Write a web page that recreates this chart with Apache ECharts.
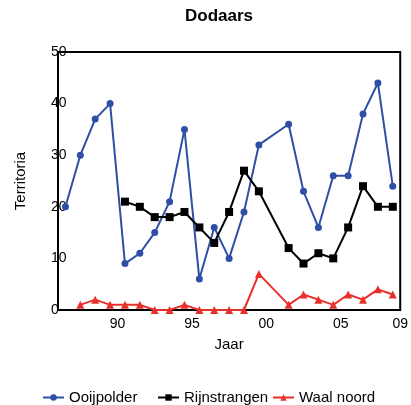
<!DOCTYPE html>
<html>
<head>
<meta charset="utf-8">
<script src="https://cdn.jsdelivr.net/npm/echarts@6/dist/echarts.min.js"></script>
<style>
  html, body { margin: 0; padding: 0; background: #fff; }
  #chart { width: 411px; height: 405px; }
</style>
</head>
<body>
<div id="chart"></div>
<script>
// jaren 1987 - 2009, 2001 ontbreekt (null)
var years = ["1987","1988","1989","1990","1991","1992","1993","1994","1995","1996","1997","1998",
  "1999","2000","2001","2002","2003","2004","2005","2006","2007","2008","2009"];
var yearLabels = { "1990": "90", "1995": "95", "2000": "00", "2005": "05", "2009": "09" };
var yTicks = [0, 10, 20, 30, 40, 50];
var seriesNames = ["Ooijpolder", "Rijnstrangen", "Waal noord"];

var ooijpolder = [20, 30, 37, 40, 9, 11, 15, 21, 35, 6, 16, 10, 19, 32, null, 36, 23, 16, 26, 26, 38, 44, 24];
var rijnstrangen = [null, null, null, null, 21, 20, 18, 18, 19, 16, 13, 19, 27, 23, null, 12, 9, 11, 10, 16, 24, 20, 20];
var waalNoord = [null, 1, 2, 1, 1, 1, 0, 0, 1, 0, 0, 0, 0, 7, null, 1, 3, 2, 1, 3, 2, 4, 3];

var font = "Liberation Sans, Arial, sans-serif";

function lineSeries(name, data, color, symbol, size) {
  return {
    name: name,
    type: "line",
    data: data,
    connectNulls: true,
    symbol: symbol,
    symbolSize: size,
    lineStyle: { color: color, width: 2 },
    itemStyle: { color: color },
    emphasis: { disabled: true },
  };
}

// de legenda staat ongelijk verdeeld in het origineel, daarom drie losse legenda's
function legendItem(name, left) {
  return {
    top: 385,
    left: left,
    itemGap: 0,
    itemWidth: 21,
    itemHeight: 8,
    textStyle: { fontFamily: font, fontSize: 15, color: "#000" },
    data: [name],
  };
}

var chart = echarts.init(document.getElementById("chart"));
chart.setOption({
  animation: false,
  title: {
    text: "Dodaars",
    left: 180,
    top: 3,
    textStyle: { fontFamily: font, fontSize: 17, fontWeight: "bold", color: "#000" },
  },
  legend: [
    legendItem(seriesNames[0], 37),
    legendItem(seriesNames[1], 152),
    legendItem(seriesNames[2], 267),
  ],
  grid: {
    left: 58,
    right: 8,
    top: 52,
    bottom: 95,
    show: true,
    borderColor: "#000",
    borderWidth: 2,
  },
  xAxis: {
    type: "category",
    data: years,
    boundaryGap: true,
    name: "Jaar",
    nameLocation: "middle",
    nameGap: 27,
    nameTextStyle: { fontFamily: font, fontSize: 15, color: "#000" },
    axisLine: { lineStyle: { color: "#000", width: 2 } },
    axisTick: { alignWithLabel: true, interval: 0, length: 4, lineStyle: { color: "#000", width: 2 } },
    axisLabel: {
      interval: 0,
      margin: 7,
      padding: [0, 0, 0, 15],
      fontFamily: font,
      fontSize: 14,
      color: "#000",
      formatter: function (v) {
        return yearLabels[v] || "";
      },
    },
    splitLine: { show: false },
  },
  yAxis: {
    type: "value",
    min: 0,
    max: 50,
    interval: 10,
    name: "Territoria",
    nameLocation: "middle",
    nameGap: 30,
    nameTextStyle: { fontFamily: font, fontSize: 15, color: "#000" },
    axisLine: { show: true, lineStyle: { color: "#000", width: 2 } },
    axisTick: { show: false },
    axisLabel: {
      margin: 7,
      align: "left",
      fontFamily: font,
      fontSize: 14,
      color: "#000",
      formatter: function (v) {
        return yTicks.indexOf(v) >= 0 ? String(v) : "";
      },
    },
    splitLine: { show: false },
  },
  series: [
    lineSeries(seriesNames[0], ooijpolder, "#2f4fa6", "circle", 7),
    lineSeries(seriesNames[1], rijnstrangen, "#000000", "rect", 8),
    lineSeries(seriesNames[2], waalNoord, "#e8302a", "triangle", 8),
  ],
});
</script>
</body>
</html>
